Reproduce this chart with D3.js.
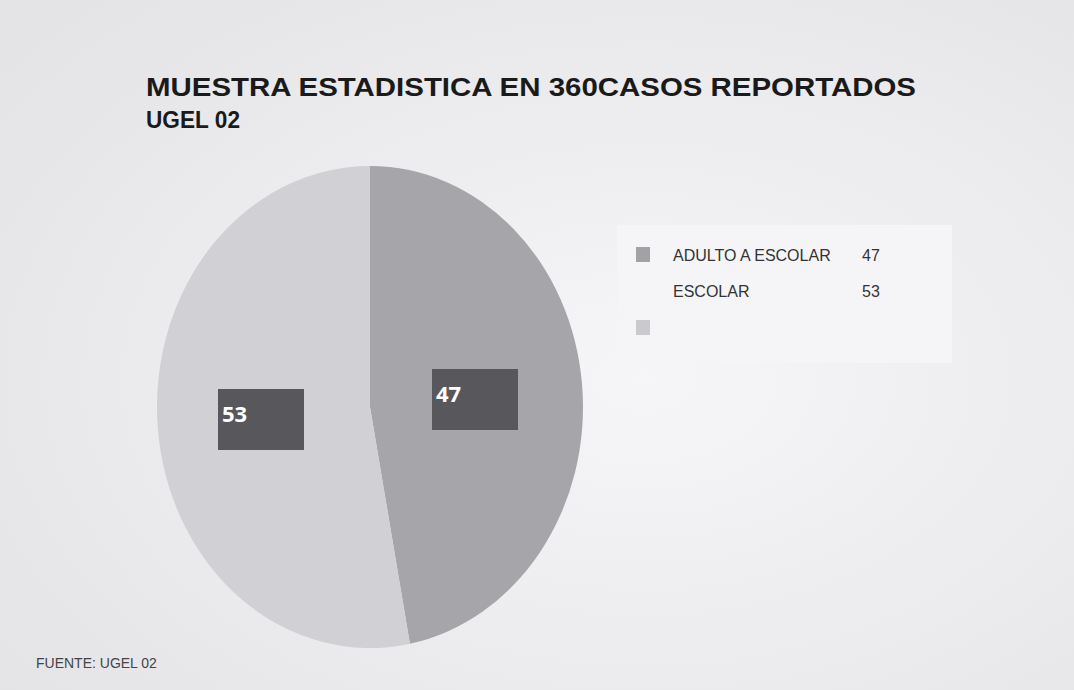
<!DOCTYPE html>
<html>
<head>
<meta charset="utf-8">
<script src="https://cdn.jsdelivr.net/npm/d3@7"></script>
<style>
  body { margin: 0; background: #ebebed; }
  svg { display: block; font-family: "Liberation Sans", Arial, sans-serif; }
</style>
</head>
<body>
<svg id="chart"></svg>
<script>
const categories = ["ADULTO A ESCOLAR", "ESCOLAR"];
const values = [47, 53];
const sliceColors = ["#a6a6aa", "#d0d0d5"];
const legendSwatches = ["#a2a2a6", "#c9c9ce"];

const WIDTH = 1074, HEIGHT = 690;
const svg = d3.select('#chart').attr('width', WIDTH).attr('height', HEIGHT);

// background with a soft light gradient
const defs = svg.append('defs');
const bg = defs.append('radialGradient').attr('id', 'bg').attr('cx', '0.6').attr('cy', '0.55').attr('r', '0.75');
bg.append('stop').attr('offset', '0%').attr('stop-color', '#f6f6f8');
bg.append('stop').attr('offset', '100%').attr('stop-color', '#e4e4e7');
svg.append('rect').attr('width', WIDTH).attr('height', HEIGHT).attr('fill', 'url(#bg)');

// title
svg.append('text').attr('x', 146).attr('y', 96)
  .attr('font-size', 26).attr('font-weight', 'bold').attr('fill', '#1a1a1a')
  .attr('textLength', 770).attr('lengthAdjust', 'spacingAndGlyphs')
  .text('MUESTRA ESTADISTICA EN 360CASOS REPORTADOS');
svg.append('text').attr('x', 146).attr('y', 128)
  .attr('font-size', 23).attr('font-weight', 'bold').attr('fill', '#1a1a1a')
  .attr('textLength', 94).attr('lengthAdjust', 'spacingAndGlyphs')
  .text('UGEL 02');

// pie (drawn as an ellipse)
const cx = 370, cy = 407, rx = 213, ry = 241;
const pie = d3.pie().sort(null).value(d => d)(values);
const arc = d3.arc().innerRadius(0).outerRadius(rx);
const g = svg.append('g').attr('transform', `translate(${cx},${cy}) scale(1,${ry / rx})`);
g.selectAll('path').data(pie).join('path')
  .attr('d', arc)
  .attr('fill', (d, i) => sliceColors[i]);

// data labels
const labelPos = [[475, 399], [261, 419]];
pie.forEach((d, i) => {
  const [lx, ly] = labelPos[i];
  svg.append('rect').attr('x', lx - 43).attr('y', ly - 30).attr('width', 86).attr('height', 61)
    .attr('fill', '#58585c');
  svg.append('text').attr('x', lx - 39).attr('y', ly + 3)
    .attr('font-family', '"Open Sans", sans-serif')
    .attr('font-size', 22).attr('font-weight', 'bold').attr('fill', '#ffffff')
    .text(values[i]);
});

// legend
svg.append('rect').attr('x', 617).attr('y', 225).attr('width', 335).attr('height', 138)
  .attr('fill', '#f5f5f7');
const legendY = [255, 291];
categories.forEach((c, i) => {
  svg.append('text').attr('x', 673).attr('y', legendY[i] + 6)
    .attr('font-size', 16).attr('fill', '#333').text(c);
  svg.append('text').attr('x', 862).attr('y', legendY[i] + 6)
    .attr('font-size', 16).attr('fill', '#333').text(values[i]);
});
svg.append('rect').attr('x', 636).attr('y', 247).attr('width', 14).attr('height', 15).attr('fill', legendSwatches[0]);
svg.append('rect').attr('x', 636).attr('y', 320).attr('width', 14).attr('height', 15).attr('fill', legendSwatches[1]);

// footer
svg.append('text').attr('x', 36).attr('y', 668)
  .attr('font-size', 14).attr('fill', '#444').text('FUENTE: UGEL 02');
</script>
</body>
</html>
